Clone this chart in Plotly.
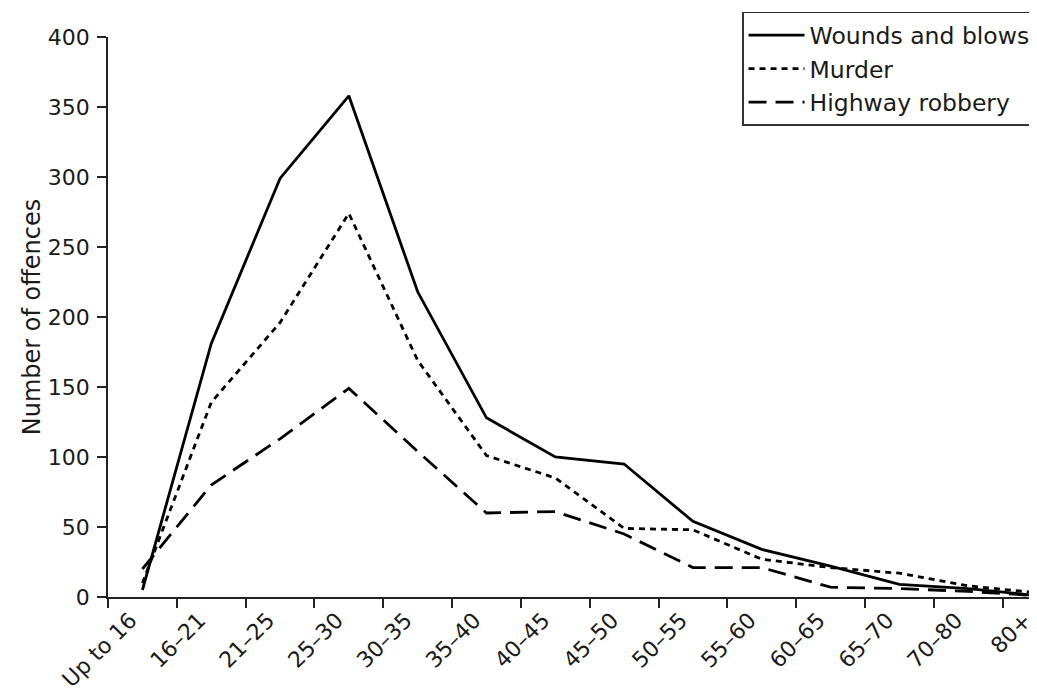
import plotly.graph_objects as go

categories = ["Up to 16", "16–21", "21–25", "25–30", "30–35", "35–40", "40–45",
              "45–50", "50–55", "55–60", "60–65", "65–70", "70–80", "80+"]
wounds = [5, 181, 299, 358, 218, 128, 100, 95, 54, 34, 22, 9, 6, 1]
murder = [10, 139, 196, 274, 169, 101, 85, 49, 48, 27, 21, 17, 8, 3]
highway = [20, 80, 113, 149, 104, 60, 61, 45, 21, 21, 7, 6, 4, 1]
y_ticks = [0, 50, 100, 150, 200, 250, 300, 350, 400]

FONT = "DejaVu Sans"
TXT = "#1a1a1a"

fig = go.Figure()
fig.add_trace(go.Scatter(x=categories, y=wounds, mode="lines", name="Wounds and blows",
                         legendgroup="a",
                         line=dict(color="black", width=2.8, dash="solid")))
fig.add_trace(go.Scatter(x=categories, y=murder, mode="lines", name="Murder",
                         legendgroup="b",
                         line=dict(color="black", width=2.8, dash="6px,5px")))
fig.add_trace(go.Scatter(x=categories, y=highway, mode="lines", name="Highway robbery",
                         legendgroup="c",
                         line=dict(color="black", width=2.8, dash="18px,9px")))

# page body has an 8px margin, so the figure is sized and offset to compensate
fig.update_layout(
    width=1029, height=684,
    margin=dict(l=100, r=0, t=29, b=95, autoexpand=False),
    paper_bgcolor="white", plot_bgcolor="white",
    font=dict(family=FONT, size=22, color=TXT),
    showlegend=True,
    legend=dict(x=0.6825, y=1.045, xanchor="left", yanchor="top",
                bordercolor="#333333", borderwidth=1.5, bgcolor="white",
                font=dict(family=FONT, size=23.5, color=TXT),
                itemwidth=56, entrywidth=300, tracegroupgap=7, traceorder="normal"),
)
fig.update_xaxes(
    type="category", range=[-0.5, 13],
    showline=True, linecolor="#222222", linewidth=1.5,
    ticks="outside", ticklen=9, tickwidth=1.5, tickcolor="#222222",
    tickson="boundaries", tickangle=-45,
    ticklabelshift=-12, ticklabelstandoff=0,
    tickfont=dict(family=FONT, size=22, color=TXT),
    showgrid=False, zeroline=False, automargin=False,
)
fig.update_yaxes(
    range=[0, 400], tickvals=y_ticks,
    showline=True, linecolor="#222222", linewidth=1.5,
    ticks="outside", ticklen=9, tickwidth=1.5, tickcolor="#222222",
    ticklabelstandoff=3,
    tickfont=dict(family=FONT, size=22, color=TXT),
    title=dict(text="Number of offences", font=dict(family=FONT, size=24, color=TXT), standoff=0),
    showgrid=False, zeroline=False, automargin=False,
)

fig.write_html("out.html")
